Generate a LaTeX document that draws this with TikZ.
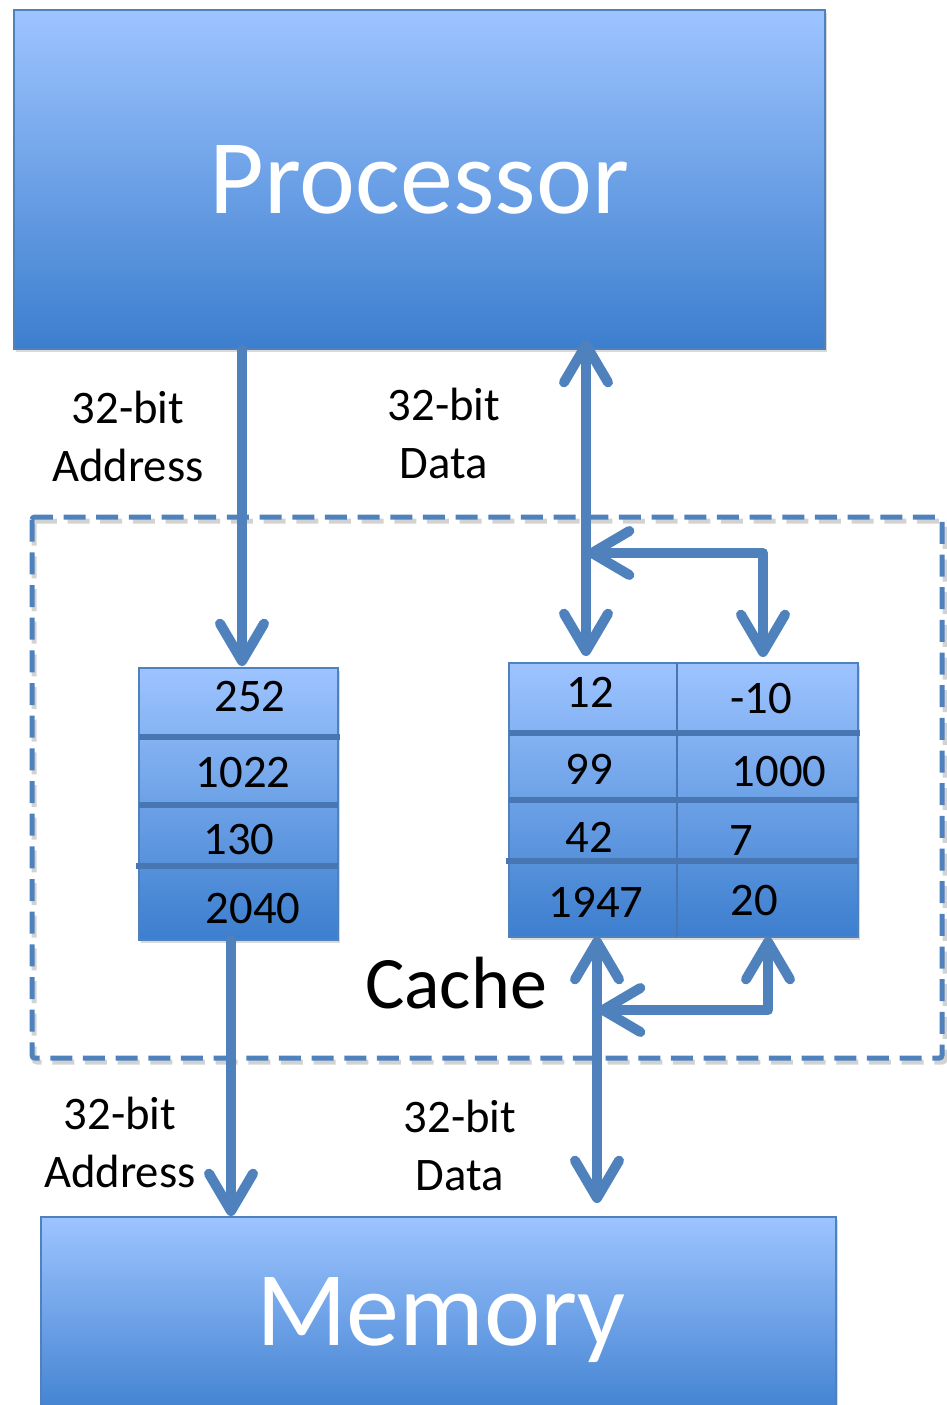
\documentclass[tikz,border=0pt]{standalone}
\usepackage{fontspec}
\setmainfont{Carlito}
\usetikzlibrary{arrows.meta,shadows}
\definecolor{arrowblue}{RGB}{79,129,189}
\definecolor{boxtop}{RGB}{157,196,255}
\definecolor{boxbot}{RGB}{60,126,206}
\definecolor{sepblue}{RGB}{72,118,178}
\definecolor{edgeblue}{RGB}{79,129,189}
\begin{document}
\begin{tikzpicture}[x=0.75pt,y=-0.75pt,
  bigbox/.style={draw=edgeblue, line width=0.8pt, top color=boxtop, bottom color=boxbot, inner sep=0pt,
    drop shadow={shadow xshift=1.5pt,shadow yshift=-2pt,opacity=0.3}},
  tablefill/.style={draw=edgeblue, line width=1pt, top color=boxtop, bottom color=boxbot,
    drop shadow={shadow xshift=1.5pt,shadow yshift=-2pt,opacity=0.3}},
  rowsep/.style={draw=sepblue, line width=4.5pt},
  num/.style={font=\fontsize{35}{42}\selectfont, inner sep=0pt},
  lbl/.style={font=\fontsize{35}{43.5}\selectfont, align=center, inner sep=0pt},
  bigtxt/.style={font=\fontsize{79.5}{90}\selectfont, text=white, inner sep=0pt},
  arr/.style={draw=arrowblue, line width=7.5pt, line cap=round, line join=round,
    >={Straight Barb[round,length=28pt,width=33pt]}},
  cachebox/.style={draw=arrowblue, line width=3.75pt, dash pattern=on 16.5pt off 8pt, rounded corners=2pt}
]
\useasboundingbox (0,0) rectangle (946,1405);
% Processor
\node[bigbox, bigtxt, minimum width=608.25pt, minimum height=254.25pt] (proc) at (419.5,179.5) {Processor};
% Memory
\node[bigbox, minimum width=596.25pt, minimum height=156pt] (mem) at (438.5,1321) {};
\node[bigtxt, anchor=base] (memtxt) at (441,1345) {Memory};
% Cache dashed outline
\draw[cachebox, draw=black!35, opacity=0.5] (34,521) rectangle (945,1062);
\draw[cachebox] (32,517) rectangle (942,1058);
\node[font=\fontsize{55.5}{60}\selectfont, anchor=base, inner sep=0pt] (cache) at (456,1008) {Cache};
% Left table
\path[tablefill] (139,668) rectangle (338,940);
\draw[rowsep] (139,737) -- (340,737);
\draw[rowsep] (139,805) -- (338,805);
\draw[rowsep] (136,866) -- (338,866);
\node[num] (l1) at (250,697) {252};
\node[num] (l2) at (243,773) {1022};
\node[num] (l3) at (239,840) {130};
\node[num] (l4) at (253,909) {2040};
% Right table
\path[tablefill] (509,663) rectangle (858,937);
\draw[rowsep] (509,733) -- (860,733);
\draw[rowsep] (509,800) -- (858,800);
\draw[rowsep] (506,861) -- (858,861);
\draw[draw=sepblue, line width=1.5pt] (677,663) -- (677,937);
\node[num] (r1) at (590,692) {12};
\node[num] (r2) at (589,769) {99};
\node[num] (r3) at (589,837) {42};
\node[num] (r4) at (596,902) {1947};
\node[num] (s1) at (761,699) {-10};
\node[num] (s2) at (779,772) {1000};
\node[num] (s3) at (741,841) {7};
\node[num] (s4) at (754,901) {20};
% Labels
\node[lbl] (la1) at (128,436) {32-bit\\Address};
\node[lbl] (la2) at (444,433) {32-bit\\Data};
\node[lbl] (la3) at (120,1142) {32-bit\\Address};
\node[lbl] (la4) at (460,1145) {32-bit\\Data};
% connector coordinates
\coordinate (ltabtop) at (242,666);
\coordinate (ltabbot) at (231,940);
\coordinate (memin) at (231,1216);
\coordinate (dtop) at (586,340);
\coordinate (dbot) at (586,656);
\coordinate (btop) at (763,657);
\coordinate (bjoin) at (587,553);
\coordinate (utop) at (597,937);
\coordinate (ubot) at (597,1203);
\coordinate (uright) at (768,937);
\coordinate (ujoin) at (598,1010);
% Arrows
\draw[arr,->] (ltabtop |- proc.south) -- (ltabtop);
\draw[arr,->] (ltabbot) -- (memin);
\draw[arr,<->] (dtop) -- (dbot);
\draw[arr,<->] (btop) |- (bjoin);
\draw[arr,<->] (utop) -- (ubot);
\draw[arr,<->] (uright) |- (ujoin);
\end{tikzpicture}
\end{document}
